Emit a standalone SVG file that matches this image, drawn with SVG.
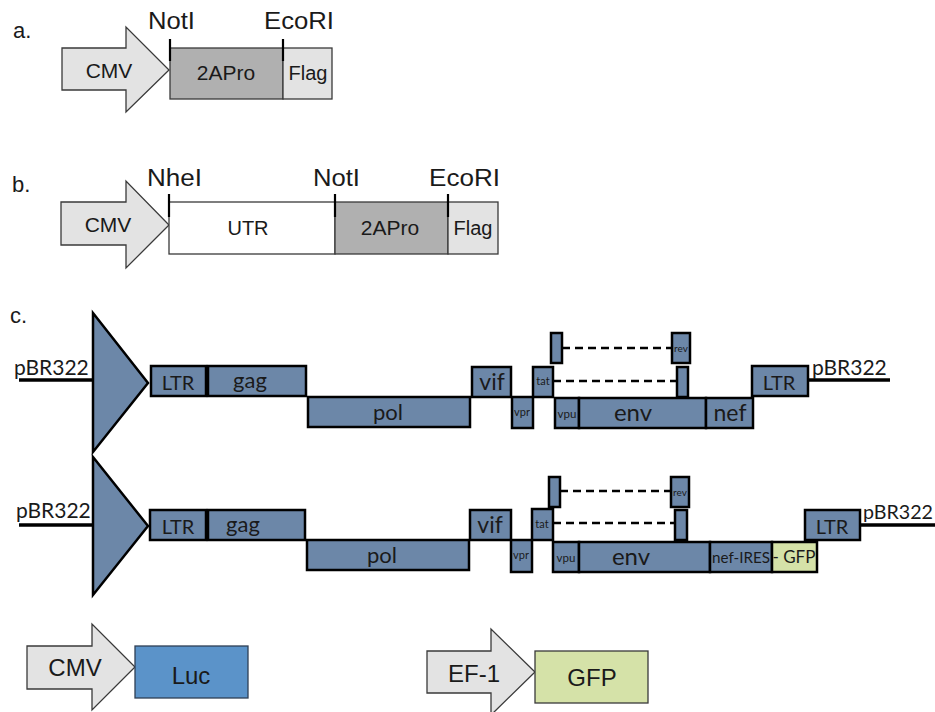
<svg xmlns="http://www.w3.org/2000/svg" width="935" height="712" viewBox="0 0 935 712">
<style>
.ar{font-family:"Liberation Sans",Arial,sans-serif;fill:#1a1a1a}
.ca{font-family:Lato,"Open Sans",sans-serif;fill:#1a1a1a}
.arrow{fill:#e3e3e3;stroke:#3a3a3a;stroke-width:1.3}
.bx{stroke:#3a3a3a;stroke-width:1.3}
.gn{fill:#6c87a8;stroke:#000;stroke-width:2.5}
.tick{stroke:#000;stroke-width:2.2}
.dna{stroke:#000;stroke-width:3.5}
.dash{stroke:#000;stroke-width:2.5;stroke-dasharray:8 5;fill:none}
</style>
<rect width="935" height="712" fill="#fff"/>

<!-- Panel a -->
<g id="panel-a">
<text class="ar" x="13" y="38" font-size="22">a.</text>
<g id="a-cmv"><polygon class="arrow" points="62,48 126,48 126,27 169,70 126,112 126,90 62,90"/><text class="ar" x="109" y="78" font-size="21" text-anchor="middle">CMV</text></g>
<g id="a-2apro"><rect class="bx" x="170" y="48" width="113" height="51" fill="#b0b0b0"/><text class="ar" x="226" y="80" font-size="21" text-anchor="middle">2APro</text></g>
<g id="a-flag"><rect class="bx" x="283" y="48" width="49" height="51" fill="#e3e3e3"/><text class="ar" x="308" y="80" font-size="20" text-anchor="middle">Flag</text></g>
<line class="tick" x1="170" y1="39" x2="170" y2="61"/>
<line class="tick" x1="283" y1="39" x2="283" y2="61"/>
<text class="ar" x="148" y="29" font-size="23" textLength="47" lengthAdjust="spacingAndGlyphs">NotI</text>
<text class="ar" x="264" y="29" font-size="23" textLength="70" lengthAdjust="spacingAndGlyphs">EcoRI</text>
</g>

<!-- Panel b -->
<g id="panel-b">
<text class="ar" x="12" y="192" font-size="22">b.</text>
<g id="b-cmv"><polygon class="arrow" points="61,202 126,202 126,181 169,225 126,268 126,245 61,245"/><text class="ar" x="108" y="232" font-size="21" text-anchor="middle">CMV</text></g>
<g id="b-utr"><rect class="bx" x="169" y="202" width="166" height="52" fill="#fff"/><text class="ar" x="248" y="235" font-size="20" text-anchor="middle">UTR</text></g>
<g id="b-2apro"><rect class="bx" x="335" y="202" width="113" height="52" fill="#b0b0b0"/><text class="ar" x="390" y="235" font-size="21" text-anchor="middle">2APro</text></g>
<g id="b-flag"><rect class="bx" x="448" y="202" width="50" height="52" fill="#e3e3e3"/><text class="ar" x="473" y="235" font-size="20" text-anchor="middle">Flag</text></g>
<line class="tick" x1="169" y1="194" x2="169" y2="217"/>
<line class="tick" x1="335" y1="194" x2="335" y2="217"/>
<line class="tick" x1="448" y1="194" x2="448" y2="217"/>
<text class="ar" x="147" y="186" font-size="23" textLength="55" lengthAdjust="spacingAndGlyphs">NheI</text>
<text class="ar" x="313" y="186" font-size="23" textLength="47" lengthAdjust="spacingAndGlyphs">NotI</text>
<text class="ar" x="429" y="186" font-size="23" textLength="71" lengthAdjust="spacingAndGlyphs">EcoRI</text>
</g>

<!-- Panel c -->
<text class="ar" x="10" y="323" font-size="22">c.</text>

<g id="row1">
<g id="r1-pbr-left"><line class="dna" x1="19" y1="380" x2="93" y2="380"/><text class="ca" x="14" y="375" font-size="21">pBR322</text></g>
<g id="r1-promoter"><polygon class="gn" points="93,313 148,383 93,452"/></g>
<g id="r1-ltr5"><rect class="gn" x="151" y="366" width="55" height="30"/><text class="ca" x="178" y="390" font-size="20" text-anchor="middle">LTR</text></g>
<rect x="205" y="365" width="4" height="32" fill="#000"/>
<g id="r1-gag"><rect class="gn" x="208" y="366" width="98" height="30"/><text class="ca" x="250" y="388" font-size="22" text-anchor="middle">gag</text></g>
<g id="r1-pol"><rect class="gn" x="308" y="397" width="162" height="30"/><text class="ca" x="388" y="420" font-size="22" text-anchor="middle">pol</text></g>
<g id="r1-vif"><rect class="gn" x="472" y="367" width="39" height="30"/><text class="ca" x="492" y="390" font-size="23" text-anchor="middle">vif</text></g>
<g id="r1-vpr"><rect class="gn" x="512" y="397" width="21" height="31"/><text class="ca" x="522" y="416" font-size="11" text-anchor="middle">vpr</text></g>
<g id="r1-tat"><rect class="gn" x="533" y="367" width="20" height="30"/><rect class="gn" x="551" y="333" width="11" height="30"/><text class="ca" x="543" y="385" font-size="11" text-anchor="middle">tat</text></g>
<g id="r1-rev"><rect class="gn" x="672" y="333" width="18" height="30"/><rect class="gn" x="677" y="367" width="11" height="30"/><text class="ca" x="681" y="352" font-size="10" text-anchor="middle">rev</text></g>
<g id="r1-vpu"><rect class="gn" x="555" y="398" width="24" height="30"/><text class="ca" x="567" y="418" font-size="11.5" text-anchor="middle">vpu</text></g>
<g id="r1-env"><rect class="gn" x="579" y="398" width="127" height="30"/><text class="ca" x="633" y="421" font-size="24" text-anchor="middle">env</text></g>
<g id="r1-nef"><rect class="gn" x="706" y="398" width="47" height="30"/><text class="ca" x="730" y="421" font-size="23" text-anchor="middle">nef</text></g>
<g id="r1-ltr3"><rect class="gn" x="752" y="366" width="56" height="30"/><text class="ca" x="779" y="390" font-size="20" text-anchor="middle">LTR</text></g>
<g id="r1-pbr-right"><line class="dna" x1="808" y1="380" x2="890" y2="380"/><text class="ca" x="812" y="375" font-size="21">pBR322</text></g>
</g>

<g id="row2">
<g id="r2-pbr-left"><line class="dna" x1="19" y1="525" x2="93" y2="525"/><text class="ca" x="16" y="518" font-size="21">pBR322</text></g>
<g id="r2-promoter"><polygon class="gn" points="93,457 148,526 93,595"/></g>
<g id="r2-ltr5"><rect class="gn" x="150" y="510" width="56" height="30"/><text class="ca" x="178" y="534" font-size="20" text-anchor="middle">LTR</text></g>
<rect x="205" y="509" width="4" height="32" fill="#000"/>
<g id="r2-gag"><rect class="gn" x="208" y="510" width="97" height="30"/><text class="ca" x="243" y="532" font-size="22" text-anchor="middle">gag</text></g>
<g id="r2-pol"><rect class="gn" x="307" y="540" width="162" height="30"/><text class="ca" x="382" y="563" font-size="22" text-anchor="middle">pol</text></g>
<g id="r2-vif"><rect class="gn" x="470" y="510" width="41" height="30"/><text class="ca" x="490" y="533" font-size="23" text-anchor="middle">vif</text></g>
<g id="r2-vpr"><rect class="gn" x="511" y="540" width="21" height="32"/><text class="ca" x="521" y="559" font-size="11" text-anchor="middle">vpr</text></g>
<g id="r2-tat"><rect class="gn" x="532" y="509" width="21" height="31"/><rect class="gn" x="549" y="477" width="11" height="30"/><text class="ca" x="542" y="528" font-size="11" text-anchor="middle">tat</text></g>
<g id="r2-rev"><rect class="gn" x="671" y="477" width="18" height="30"/><rect class="gn" x="675" y="510" width="12" height="30"/><text class="ca" x="680" y="496" font-size="10" text-anchor="middle">rev</text></g>
<g id="r2-vpu"><rect class="gn" x="553" y="542" width="26" height="30"/><text class="ca" x="566" y="562" font-size="11.5" text-anchor="middle">vpu</text></g>
<g id="r2-env"><rect class="gn" x="579" y="542" width="131" height="30"/><text class="ca" x="631" y="565" font-size="24" text-anchor="middle">env</text></g>
<g id="r2-nef-ires"><rect class="gn" x="710" y="542" width="62" height="30"/><text class="ca" x="741" y="563" font-size="15" text-anchor="middle" textLength="58" lengthAdjust="spacingAndGlyphs">nef-IRES</text></g>
<g id="r2-gfp"><rect x="772" y="542" width="45" height="30" fill="#d5e2a8" stroke="#000" stroke-width="2.5"/><text class="ca" x="794" y="563" font-size="17" text-anchor="middle">- GFP</text></g>
<g id="r2-ltr3"><rect class="gn" x="805" y="510" width="55" height="30"/><text class="ca" x="832" y="534" font-size="20" text-anchor="middle">LTR</text></g>
<g id="r2-pbr-right"><line class="dna" x1="860" y1="525" x2="935" y2="525"/><text class="ca" x="863" y="519" font-size="20" textLength="70" lengthAdjust="spacingAndGlyphs">pBR322</text></g>
</g>

<g id="connectors">
<line class="dash" x1="562" y1="348" x2="672" y2="348"/>
<line class="dash" x1="553" y1="381" x2="677" y2="381"/>
<line class="dash" x1="560" y1="491" x2="671" y2="491"/>
<line class="dash" x1="553" y1="523" x2="675" y2="523"/>
</g>

<!-- Bottom constructs -->
<g id="cmv-luc">
<g id="cmv2"><polygon class="arrow" points="27,646 92,646 92,624 135,667 92,710 92,689 27,689"/><text class="ar" x="75" y="676" font-size="24" text-anchor="middle">CMV</text></g>
<g id="luc"><rect x="135" y="646" width="113" height="52" fill="#5b93c9" stroke="#2f3f55" stroke-width="1.3"/><text class="ar" x="191" y="684" font-size="24" text-anchor="middle">Luc</text></g>
</g>
<g id="ef1-gfp">
<g id="ef1"><polygon class="arrow" points="427,651 491,651 491,629 535,672 491,715 491,693 427,693"/><text class="ar" x="474" y="682" font-size="24" text-anchor="middle">EF-1</text></g>
<g id="gfp"><rect x="535" y="651" width="113" height="52" fill="#d5e2a8" stroke="#3a3a3a" stroke-width="1.3"/><text class="ar" x="592" y="686" font-size="24" text-anchor="middle">GFP</text></g>
</g>
</svg>
